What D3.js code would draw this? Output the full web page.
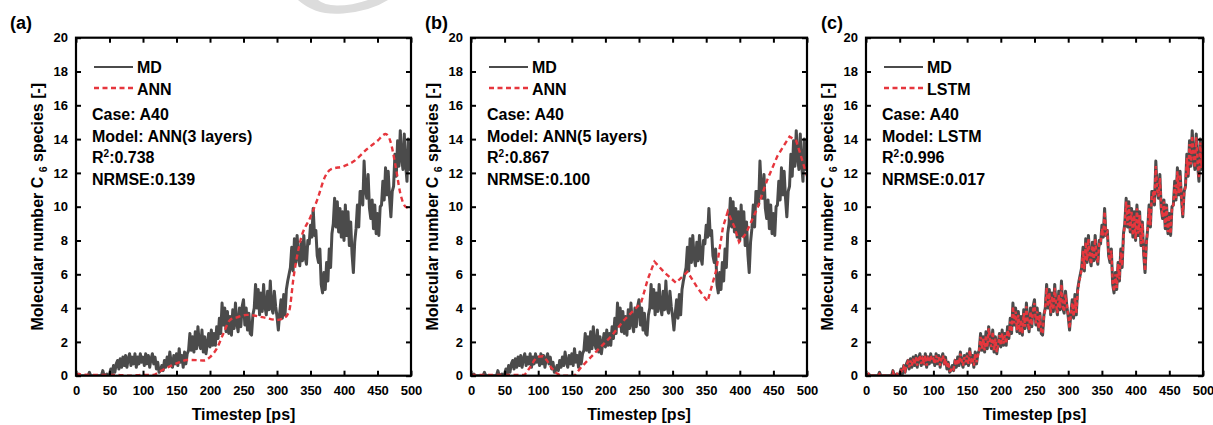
<!DOCTYPE html>
<html><head><meta charset="utf-8">
<script src="https://cdn.jsdelivr.net/npm/d3@7"></script>
<style>
body{margin:0;background:#fff}
svg{display:block}
text{font-family:"Liberation Sans",Arial,sans-serif;font-weight:bold;fill:#000}
</style>
</head><body>
<svg id="chart" width="1213" height="425"></svg>
<script>
// ---------- DATA ----------
const xTicks = [0,50,100,150,200,250,300,350,400,450,500];
const yTicks = [0,2,4,6,8,10,12,14,16,18,20];
const mdStep = 2; // ps between MD samples
const mdValues = [
 0,0,0.1,0,0,0,0,0,0,0,0.2,0,0,0,0,0,0,0,0,0,0.3,0,0,0.1,0,
 0.1,0.4,0.1,0.6,0.2,0.7,0.9,0.4,1.0,0.5,1.1,0.6,1.2,0.5,1.0,1.3,0.6,1.1,0.7,1.3,0.5,1.1,0.7,1.3,0.8,
 1.1,0.6,1.3,0.7,1.2,0.5,1.0,1.3,0.7,1.1,0.4,0.8,0.2,0.3,0.6,0.3,0.9,0.5,1.1,0.6,1.4,0.8,0.5,1.2,0.7,
 1.3,0.6,1.6,0.8,1.2,0.5,1.4,0.7,1.3,1.5,2.5,1.5,2.3,1.4,2.6,1.6,2.9,1.9,1.6,2.7,1.4,2.3,1.3,1.9,2.5,
 1.7,2.7,1.8,2.5,1.8,2.9,2.2,3.4,2.5,4.3,3.0,4.0,2.6,3.8,2.5,3.5,2.4,3.9,2.8,4.3,3.1,2.6,4.0,2.9,4.1,
 4.5,3.0,4.0,2.7,3.7,2.5,2.4,3.6,4.0,5.4,4.0,5.1,3.6,4.9,3.8,5.4,4.1,3.6,5.0,3.9,5.6,4.0,3.7,5.0,4.1,
 3.5,2.7,3.7,4.5,3.4,4.8,3.6,5.1,5.6,6.0,6.4,7.6,6.2,8.1,6.7,8.3,7.0,6.5,7.9,6.8,8.3,7.0,6.6,8.0,7.8,
 8.9,8.2,9.9,8.3,8.6,7.1,6.7,7.5,5.4,4.9,6.1,5.1,6.7,5.6,7.5,6.4,8.4,9.0,10.5,8.8,10.3,8.5,9.9,8.2,9.7,
 8.0,10.1,8.3,9.7,7.7,9.1,7.2,6.1,7.9,8.7,10.1,8.8,10.9,10.9,10.1,12.7,11.0,10.5,11.9,9.9,9.3,10.4,8.7,10.1,8.4,
 9.6,8.3,10.0,10.1,11.5,10.4,12.3,10.7,12.1,10.5,9.4,10.9,11.2,13.1,11.8,13.9,12.4,14.5,12.9,12.2,14.3,12.5,11.5,14.0,12.2,13.4
];
const ann3Time  = [0,20,40,60,80,100,115,125,140,155,165,180,192,200,210,220,230,240,255,280,300,310,318,325,335,350,360,372,380,400,415,434,450,462,469,477,484,492,500];
const ann3Value = [0.1,0.05,0.05,0.05,0.0,0.05,0.05,0.25,0.55,0.8,0.93,0.92,0.9,1.1,1.6,2.5,3.3,3.45,3.6,3.45,3.3,3.4,3.8,5.9,8.0,9.4,10.4,11.8,12.2,12.4,12.7,13.4,13.9,14.3,13.9,12.4,10.8,10.0,9.9];
const ann5Time  = [0,40,80,88,94,99,107,113,119,127,134,154,164,188,208,228,253,263,273,288,305,322,337,352,365,375,382,392,399,409,427,441,456,474,484,491,500];
const ann5Value = [0.05,0.05,0.05,0.5,0.9,1.12,1.15,0.9,0.5,0.15,0.0,0.0,0.5,1.5,2.3,3.3,4.3,5.7,6.75,6.1,5.5,6.15,5.2,4.4,6.25,8.8,9.7,8.8,7.9,8.4,10.0,11.6,13.0,14.15,13.9,13.0,11.8];
const lstmStep = 2; // ps between LSTM samples
const lstmValues = [
 0,0,0.1,0,0,0,0,0,0,0,0.1,0,0,0,0,0,0,0,0,0,0.2,0,0,0.1,0,
 0.1,0.3,0.2,0.5,0.3,0.6,0.8,0.5,0.9,0.6,1.0,0.7,1.1,0.6,1.0,1.2,0.7,1.0,0.8,1.2,0.6,1.0,0.8,1.2,0.9,
 1.0,0.7,1.2,0.8,1.1,0.6,1.0,1.2,0.8,1.0,0.5,0.8,0.3,0.3,0.5,0.4,0.8,0.6,1.0,0.7,1.3,0.9,0.6,1.1,0.8,
 1.2,0.7,1.5,0.9,1.1,0.6,1.3,0.8,1.2,1.5,2.3,1.6,2.2,1.5,2.4,1.7,2.8,2.0,1.7,2.6,1.5,2.2,1.4,1.8,2.4,
 1.8,2.5,1.9,2.4,1.9,2.7,2.3,3.2,2.6,4.1,3.1,3.8,2.7,3.6,2.6,3.3,2.5,3.7,2.9,4.1,3.2,2.7,3.8,3.0,3.9,
 4.3,3.1,3.8,2.8,3.6,2.6,2.5,3.5,4.0,5.2,4.1,4.9,3.7,4.7,3.9,5.2,4.2,3.7,4.8,4.0,5.4,4.1,3.8,4.8,4.2,
 3.6,2.8,3.6,4.3,3.5,4.6,3.7,4.9,5.5,5.9,6.3,7.4,6.3,7.9,6.8,8.1,7.1,6.6,7.7,6.9,8.1,7.1,6.7,7.8,7.8,
 8.7,8.3,9.7,8.4,8.5,7.2,6.8,7.4,5.5,5.0,6.0,5.2,6.6,5.7,7.3,6.5,8.2,9.0,10.3,8.9,10.1,8.6,9.7,8.3,9.5,
 8.1,9.9,8.4,9.5,7.8,9.0,7.3,6.2,7.8,8.7,9.9,8.9,10.7,10.8,10.2,12.4,11.0,10.6,11.7,10.0,9.4,10.3,8.8,10.0,8.5,
 9.5,8.4,9.9,10.1,11.3,10.5,12.1,10.8,11.9,10.6,9.5,10.8,11.2,12.9,11.9,13.7,12.5,14.2,13.0,12.3,14.1,12.6,11.7,13.8,12.3,13.3
];
const panelTags = ["(a)","(b)","(c)"];
const modelNames = ["ANN","ANN","LSTM"];
const modelTexts = ["Model: ANN(3 layers)","Model: ANN(5 layers)","Model: LSTM"];
const r2Texts = ["0.738","0.867","0.996"];
const nrmseTexts = ["0.139","0.100","0.017"];
const caseText = "Case: A40";

// ---------- LAYOUT ----------
const svg = d3.select("#chart");
const plotTop = 37.7, plotBottom = 375.7;
const panels = [
  {L:76,  R:411, tagX:10},
  {L:471, R:807, tagX:425},
  {L:866, R:1203, tagX:821}
];
const MDCOL = "#4b4b4b", RED = "#e6363d";

// watermark arc
svg.append("path")
  .attr("d","M298,0 Q316,16 343,13.5 Q371,11 388,0 L368,0 Q352,5.5 337,5.5 Q324,5 318,0 Z")
  .attr("fill","#dcdcdc");

const mdData = mdValues.map((v,i)=>({t:i*mdStep, v}));
const lstmData = lstmValues.map((v,i)=>({t:i*lstmStep, v}));
const ann3Data = ann3Time.map((t,i)=>({t, v:ann3Value[i]}));
const ann5Data = ann5Time.map((t,i)=>({t, v:ann5Value[i]}));
const predData = [ann3Data, ann5Data, lstmData];

panels.forEach((p,k)=>{
  const x = d3.scaleLinear().domain([0,500]).range([p.L,p.R]);
  const y = d3.scaleLinear().domain([0,20]).range([plotBottom,plotTop]);
  const g = svg.append("g");

  const clipId = "clip"+k;
  svg.append("clipPath").attr("id",clipId).append("rect")
    .attr("x",p.L).attr("y",plotTop).attr("width",p.R-p.L).attr("height",plotBottom-plotTop);

  const line = d3.line().x(d=>x(d.t)).y(d=>y(d.v));
  const smooth = d3.line().x(d=>x(d.t)).y(d=>y(d.v)).curve(d3.curveMonotoneX);

  g.append("path").datum(mdData).attr("clip-path",`url(#${clipId})`)
    .attr("d",line).attr("fill","none").attr("stroke",MDCOL)
    .attr("stroke-width",3).attr("stroke-linejoin","round");

  g.append("path").datum(predData[k]).attr("clip-path",`url(#${clipId})`)
    .attr("d", k===0 ? smooth : line).attr("fill","none").attr("stroke",RED)
    .attr("stroke-width",2.4).attr("stroke-dasharray", k===2 ? "4,2.5" : "5,3.5");

  // axes (inward ticks)
  const ax = (a)=>{ a.select(".domain").remove(); a.selectAll("line").attr("stroke","#000").attr("stroke-width",2); };
  const bx = g.append("g").attr("transform",`translate(0,${plotBottom})`)
    .call(d3.axisBottom(x).tickValues(xTicks).tickSize(-5).tickPadding(10));
  ax(bx); bx.selectAll("text").attr("font-size",13).attr("fill","#000");
  const tx = g.append("g").attr("transform",`translate(0,${plotTop})`)
    .call(d3.axisTop(x).tickValues(xTicks).tickSize(-5).tickFormat(""));
  ax(tx);
  const ly = g.append("g").attr("transform",`translate(${p.L},0)`)
    .call(d3.axisLeft(y).tickValues(yTicks).tickSize(-5).tickPadding(8));
  ax(ly); ly.selectAll("text").attr("font-size",13).attr("fill","#000");
  const ry = g.append("g").attr("transform",`translate(${p.R},0)`)
    .call(d3.axisRight(y).tickValues(yTicks).tickSize(-5).tickFormat(""));
  ax(ry);

  g.append("rect").attr("x",p.L).attr("y",plotTop).attr("width",p.R-p.L).attr("height",plotBottom-plotTop)
    .attr("fill","none").attr("stroke","#000").attr("stroke-width",2.2);

  // titles
  g.append("text").attr("x",(p.L+p.R)/2).attr("y",420).attr("text-anchor","middle")
    .attr("font-size",16).text("Timestep [ps]");
  const yt = g.append("text").attr("transform",`translate(${p.L-33},${(plotTop+plotBottom)/2}) rotate(-90)`)
    .attr("text-anchor","middle").attr("font-size",16);
  yt.append("tspan").text("Molecular number C ");
  yt.append("tspan").attr("font-size",10.5).attr("dy",4).text("6");
  yt.append("tspan").attr("dy",-4).text(" species [-]");

  g.append("text").attr("x",p.tagX).attr("y",29).attr("font-size",18).text(panelTags[k]);

  // legend
  const lx = p.L+18;
  g.append("line").attr("x1",lx).attr("x2",lx+39).attr("y1",67).attr("y2",67)
    .attr("stroke",MDCOL).attr("stroke-width",2.2);
  g.append("text").attr("x",lx+43).attr("y",73).attr("font-size",16).text("MD");
  g.append("line").attr("x1",lx).attr("x2",lx+39).attr("y1",88).attr("y2",88)
    .attr("stroke",RED).attr("stroke-width",2.4).attr("stroke-dasharray","5,3.5");
  g.append("text").attr("x",lx+43).attr("y",94.5).attr("font-size",16).text(modelNames[k]);

  const tx0 = p.L+16;
  g.append("text").attr("x",tx0).attr("y",120).attr("font-size",16).text(caseText);
  g.append("text").attr("x",tx0).attr("y",141.7).attr("font-size",16).text(modelTexts[k]);
  const r2 = g.append("text").attr("x",tx0).attr("y",163.4).attr("font-size",16);
  r2.append("tspan").text("R");
  r2.append("tspan").attr("font-size",10).attr("dy",-6).text("2");
  r2.append("tspan").attr("dy",6).text(":"+r2Texts[k]);
  g.append("text").attr("x",tx0).attr("y",185).attr("font-size",16).text("NRMSE:"+nrmseTexts[k]);
});
</script>
</body></html>
